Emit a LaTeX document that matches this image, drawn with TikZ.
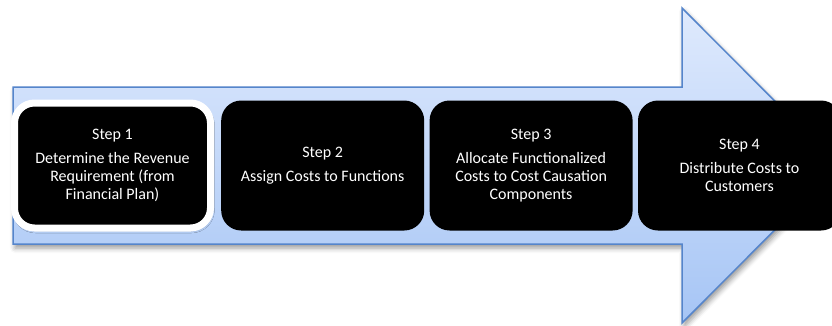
\documentclass[tikz,border=0pt]{standalone}
\usepackage{fontspec}
\setmainfont{Carlito}
\usetikzlibrary{positioning,shadows.blur}
\definecolor{arrowtop}{HTML}{DFEAFD}
\definecolor{arrowbottom}{HTML}{A6C5F5}
\definecolor{arrowline}{HTML}{5585CB}
\begin{document}
\begin{tikzpicture}[
        x=1pt, y=-1pt,
        stepbox/.style={rectangle, rounded corners=20pt, fill=black, text=white,
                minimum width=203pt, minimum height=130pt, inner sep=0pt,
                align=center, font=\fontsize{16}{18}\selectfont},
        firstbox/.style={stepbox, draw=white, line width=7pt,
                minimum width=196pt, minimum height=125pt,
                blur shadow={shadow xshift=1pt, shadow yshift=-2pt, shadow blur radius=3pt, shadow opacity=35}},
        bigarrow/.style={draw=arrowline, line width=1.5pt, line join=miter,
                top color=arrowtop, bottom color=arrowbottom,
                blur shadow={shadow xshift=2pt, shadow yshift=-4pt, shadow blur radius=5pt, shadow opacity=40}}
    ]
    \useasboundingbox (0,0) rectangle (832,325);

    % the arrow behind the steps
    \draw[bigarrow] (13,87) -- (682,87) -- (682,8) -- (839,165.5)
        -- (682,323) -- (682,244) -- (13,244) -- cycle;

    \node[firstbox] (s1) at (112.5,165.5) {Step 1\\[6pt]Determine the Revenue\\Requirement (from\\Financial Plan)};
    \node[stepbox, right=7pt of s1] (s2) {Step 2\\[6pt]Assign Costs to Functions};
    \node[stepbox, right=5pt of s2] (s3) {Step 3\\[6pt]Allocate Functionalized\\Costs to Cost Causation\\Components};
    \node[stepbox, right=5pt of s3] (s4) {Step 4\\[6pt]Distribute Costs to\\Customers};
\end{tikzpicture}
\end{document}
